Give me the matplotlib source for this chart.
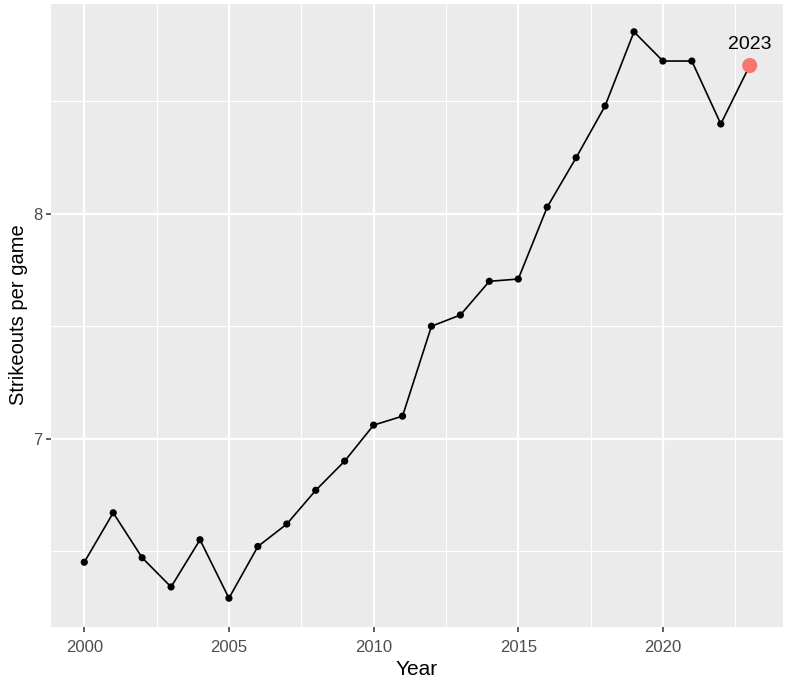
import matplotlib
matplotlib.use("Agg")
import matplotlib.pyplot as plt
import numpy as np

years = list(range(2000, 2024))
so_per_game = [6.45, 6.67, 6.47, 6.34, 6.55, 6.29, 6.52, 6.62, 6.77, 6.90,
               7.06, 7.10, 7.50, 7.55, 7.70, 7.71, 8.03, 8.25, 8.48, 8.81,
               8.68, 8.68, 8.40, 8.66]
highlight_year = 2023
y_ticks = [7, 8]
x_ticks = [2000, 2005, 2010, 2015, 2020]

plt.rcParams['font.family'] = ['Liberation Sans', 'DejaVu Sans']

W, H = 796, 682
fig = plt.figure(figsize=(W/100, H/100), dpi=100)
left, right, top, bottom = 51, 783, 3.5, 626.5
ax = fig.add_axes([left/W, (H-bottom)/H, (right-left)/W, (bottom-top)/H])
ax.set_facecolor('#EBEBEB')
for s in ax.spines.values():
    s.set_visible(False)

ymin, ymax = min(so_per_game), max(so_per_game)
yr = ymax - ymin
ax.set_ylim(ymin - 0.05*yr, ymax + 0.05*yr)
xr = years[-1] - years[0]
ax.set_xlim(years[0] - 0.05*xr, years[-1] + 0.05*xr)

ax.set_yticks(y_ticks)
ax.set_yticks([6.5, 7.5, 8.5], minor=True)
ax.set_xticks(x_ticks)
ax.set_xticks([2002.5, 2007.5, 2012.5, 2017.5, 2022.5], minor=True)
ax.grid(which='major', color='white', linewidth=1.6)
ax.grid(which='minor', color='white', linewidth=0.8)
ax.set_axisbelow(True)
ax.tick_params(which='major', length=3.6, width=1.1, color='#333333',
               labelsize=12, labelcolor='#4D4D4D', pad=2.5)
ax.tick_params(axis='x', which='major', pad=6)
ax.tick_params(which='minor', length=0)

ax.plot(years, so_per_game, color='black', linewidth=1.2, zorder=3)
ax.scatter(years[:-1], so_per_game[:-1], s=27, color='black', zorder=4, edgecolors='none')
hi = years.index(highlight_year)
ax.scatter([years[hi]], [so_per_game[hi]], s=118, color='#F8766D', zorder=5, edgecolors='none')
ax.annotate(str(highlight_year), (years[hi], so_per_game[hi]), xytext=(0, 12),
            textcoords='offset points', ha='center', va='baseline', fontsize=14, color='black')

ax.set_xlabel('Year', fontsize=15, labelpad=4)
ax.set_ylabel('Strikeouts per game', fontsize=14.5, labelpad=4)

fig.savefig('out.png', dpi=100)
